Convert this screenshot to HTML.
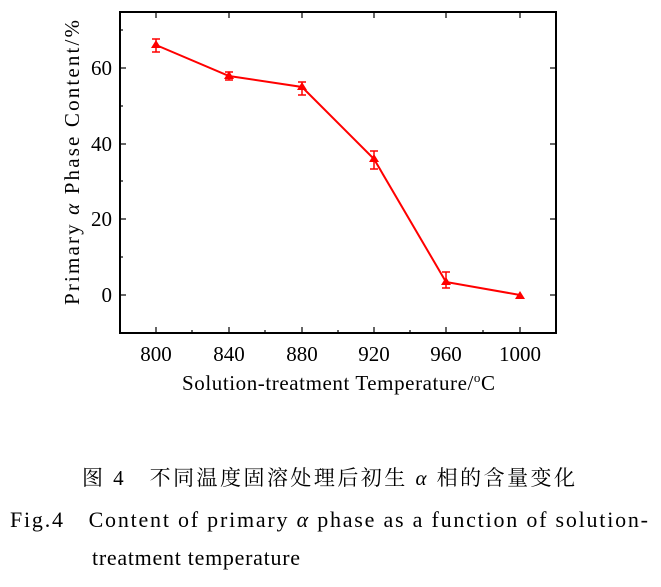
<!DOCTYPE html><html><head><meta charset="utf-8"><style>body{margin:0;background:#fff}svg text{font-family:"Liberation Serif","Noto Serif CJK SC",serif;fill:#000}</style></head><body>
<svg width="661" height="582" xmlns="http://www.w3.org/2000/svg">
<rect x="120" y="12" width="436" height="321" fill="none" stroke="#000" stroke-width="2"/>
<g stroke="#000" stroke-width="1.2">
<line x1="156" y1="333" x2="156" y2="327"/><line x1="229" y1="333" x2="229" y2="327"/><line x1="302" y1="333" x2="302" y2="327"/><line x1="374" y1="333" x2="374" y2="327"/><line x1="446" y1="333" x2="446" y2="327"/><line x1="520" y1="333" x2="520" y2="327"/>
<line x1="192" y1="333" x2="192" y2="330"/><line x1="265" y1="333" x2="265" y2="330"/><line x1="338" y1="333" x2="338" y2="330"/><line x1="410" y1="333" x2="410" y2="330"/><line x1="483" y1="333" x2="483" y2="330"/>
<line x1="120" y1="295" x2="126" y2="295"/><line x1="120" y1="219" x2="126" y2="219"/><line x1="120" y1="144" x2="126" y2="144"/><line x1="120" y1="68" x2="126" y2="68"/>
<line x1="120" y1="257" x2="123" y2="257"/><line x1="120" y1="181" x2="123" y2="181"/><line x1="120" y1="106" x2="123" y2="106"/><line x1="120" y1="30" x2="123" y2="30"/>
<line x1="556" y1="295" x2="550" y2="295"/><line x1="556" y1="219" x2="550" y2="219"/><line x1="556" y1="144" x2="550" y2="144"/><line x1="556" y1="68" x2="550" y2="68"/>
<line x1="156" y1="12" x2="156" y2="18"/><line x1="229" y1="12" x2="229" y2="18"/><line x1="302" y1="12" x2="302" y2="18"/><line x1="374" y1="12" x2="374" y2="18"/><line x1="446" y1="12" x2="446" y2="18"/><line x1="520" y1="12" x2="520" y2="18"/>
</g>
<polyline fill="none" stroke="#f00" stroke-width="2" points="156,45 229,76 302,87 374,159 446,282 520,295"/>
<g stroke="#f00" stroke-width="1.5" fill="none">
<path d="M156 39V52M152 39H160M152 52H160"/><path d="M229 72V80M225 72H233M225 80H233"/><path d="M302 82V95M298 82H306M298 95H306"/><path d="M374 151V169M370 151H378M370 169H378"/><path d="M446 272V288M442 272H450M442 288H450"/>
</g>
<g fill="#f00">
<path d="M156 40l-5 8h10z"/><path d="M229 71l-5 8h10z"/><path d="M302 82l-5 8h10z"/><path d="M374 154l-5 8h10z"/><path d="M446 277l-5 8h10z"/><path d="M520 291l-5 8h10z"/>
</g>
<g font-size="21" text-anchor="end">
<text x="112" y="302">0</text><text x="112" y="226">20</text><text x="112" y="151">40</text><text x="112" y="75">60</text>
</g>
<g font-size="21" text-anchor="middle">
<text x="156" y="361">800</text><text x="229" y="361">840</text><text x="302" y="361">880</text><text x="374" y="361">920</text><text x="446" y="361">960</text><text x="520" y="361">1000</text>
</g>
<text x="182" y="390" font-size="21" textLength="313">Solution-treatment Temperature/<tspan font-size="13" dy="-8">o</tspan><tspan dy="8">C</tspan></text>
<text font-size="21" textLength="285" transform="translate(79,305) rotate(-90)">Primary <tspan font-style="italic">α</tspan> Phase Content/%</text>
<text x="82" y="485" font-size="21" textLength="493">图 4　不同温度固溶处理后初生 <tspan font-style="italic">α</tspan> 相的含量变化</text>
<text x="10" y="527" font-size="22" textLength="638">Fig.4　Content of primary <tspan font-style="italic">α</tspan> phase as a function of solution-</text>
<text x="92" y="565" font-size="22" textLength="208">treatment temperature</text>
</svg></body></html>
